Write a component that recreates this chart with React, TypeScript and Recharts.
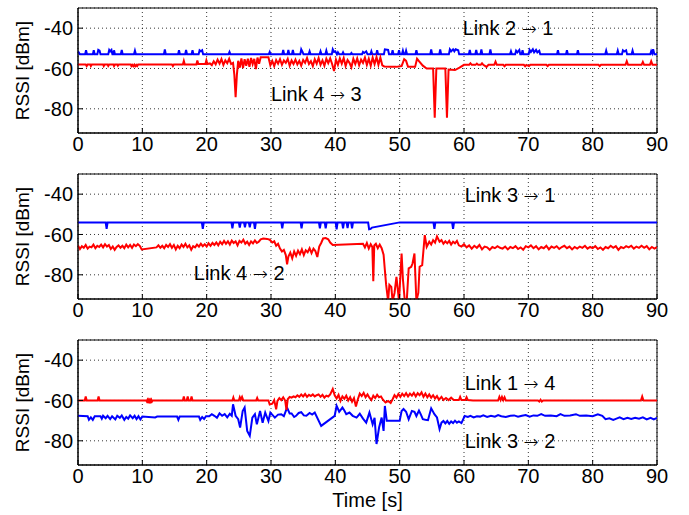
import React from "react";
import {
  LineChart,
  Line,
  XAxis,
  YAxis,
  CartesianGrid,
  ReferenceArea,
  ReferenceDot,
} from "recharts";

type Pt = [number, number];

const timeTicks = [0, 10, 20, 30, 40, 50, 60, 70, 80, 90];
const rssiTicks = [-80, -60, -40];

// panel 1
const link21: Pt[] = [
  [0, -51.5], [0.3, -53], [1.1, -53], [1.25, -51], [1.4, -53], [2.3, -53], [2.45, -51], [2.6, -53],
  [3.0, -53], [3.15, -50.8], [3.35, -51.2], [3.5, -53], [4.7, -53], [4.85, -50.8], [5.0, -51.5],
  [5.2, -50.8], [5.35, -53], [5.5, -53], [5.6, -51], [5.75, -53], [6.65, -53], [6.8, -50.8], [6.95, -53],
  [8.7, -53], [8.85, -51.2], [9.0, -53], [13.35, -53], [13.5, -50.5], [13.65, -53], [15.55, -53],
  [15.7, -51], [15.85, -53], [16.65, -53], [16.8, -50.8], [16.95, -53], [17.65, -53], [17.8, -51],
  [17.95, -53], [18.75, -53], [18.9, -51], [19.1, -51.5], [19.3, -51], [19.45, -53], [23.4, -53],
  [23.55, -51.8], [23.7, -53], [29.65, -53], [29.8, -51.8], [29.95, -53], [31.75, -53], [31.9, -50.8],
  [32.05, -53], [32.55, -53], [32.7, -50.8], [32.85, -53], [33.25, -53], [33.4, -50.8], [33.55, -53],
  [34.55, -53], [34.7, -50.5], [34.9, -51.8], [35.05, -53], [35.85, -53], [36.0, -51.5], [36.15, -53],
  [37.55, -53], [37.7, -51.5], [37.85, -53], [38.45, -53], [38.6, -51.2], [38.75, -53], [39.45, -53],
  [39.6, -50.5], [39.8, -51.8], [40.0, -51.5], [40.25, -53], [40.4, -52], [40.6, -53], [41.05, -53],
  [41.2, -52], [41.35, -53], [42.35, -53], [42.5, -52.3], [42.65, -53], [44.15, -53], [44.3, -51.8],
  [44.5, -52.3], [44.8, -51.5], [45.0, -53], [45.45, -53], [45.6, -51.5], [45.75, -53], [46.35, -53],
  [46.5, -51], [46.65, -53], [47.55, -53], [47.7, -50.5], [48.2, -50.8], [48.35, -53], [48.75, -53],
  [48.9, -51], [49.05, -53], [49.75, -53], [49.9, -51], [50.05, -53], [50.35, -53], [50.5, -51.2],
  [50.65, -53], [50.85, -53], [51.0, -51.2], [51.15, -53], [52.45, -53], [52.6, -51], [52.75, -53],
  [54.75, -53], [54.9, -50.6], [55.05, -53], [56.15, -53], [56.3, -50.6], [56.45, -53], [57.65, -53],
  [57.8, -50.5], [58.0, -51.5], [58.3, -50.5], [58.5, -51.5], [58.7, -50.5], [59.1, -51], [59.25, -53],
  [60.75, -53], [60.9, -50.8], [61.05, -53], [61.75, -53], [61.9, -50.8], [62.05, -53], [62.55, -53],
  [62.7, -50.5], [62.85, -53], [63.95, -53], [64.1, -50.5], [64.25, -53], [67.15, -53], [67.3, -51.5],
  [67.45, -53], [67.95, -53], [68.1, -51.2], [68.3, -52], [68.6, -50.8], [68.75, -53], [68.95, -53],
  [69.1, -51], [69.25, -53], [70.05, -53], [70.2, -50.8], [70.4, -51.8], [70.7, -50.5], [70.9, -52],
  [71.2, -50.8], [71.4, -52], [71.7, -51.2], [71.85, -53], [74.45, -53], [74.6, -51], [74.75, -53],
  [75.85, -53], [76.0, -51], [76.15, -53], [77.55, -53], [77.7, -51], [77.85, -53], [81.95, -53],
  [82.1, -51.2], [82.25, -53], [83.75, -53], [83.9, -51.2], [84.05, -53], [84.55, -53], [84.7, -51],
  [84.9, -51.6], [85.2, -51], [85.35, -53], [86.05, -53], [86.2, -51.2], [86.35, -53], [88.95, -53],
  [89.1, -51.4], [89.25, -52.5], [89.4, -50.4], [89.6, -53], [90, -53],
];

const link43: Pt[] = [
  [0, -58], [1.2, -58], [1.35, -58.8], [1.5, -58], [1.9, -58], [2.0, -58.8], [2.15, -58], [3.9, -58],
  [4.0, -58.8], [4.15, -58], [4.6, -58], [4.7, -58.7], [4.85, -58], [5.5, -58], [5.6, -58.8],
  [5.75, -58], [6.1, -58], [6.2, -58.6], [6.35, -58], [8.2, -58], [8.3, -58.8], [8.45, -58.2],
  [8.6, -58.9], [8.75, -58.1], [8.9, -58.9], [9.05, -58.2], [9.2, -58.8], [9.35, -58], [14.6, -58],
  [14.75, -58.8], [14.9, -58], [16.3, -58], [16.45, -56.2], [16.6, -58], [18.4, -58], [18.55, -56],
  [18.7, -57.8], [19.8, -57.8], [19.95, -56], [20.1, -57.8], [20.5, -57.5], [20.8, -58.3],
  [21.1, -56.4], [21.4, -57.9], [21.7, -55.6], [22.0, -57.6], [22.3, -55.3], [22.6, -58.2],
  [22.9, -56.0], [23.2, -57.4], [23.5, -55.2], [23.8, -57.8], [24.1, -57.2], [24.3, -63],
  [24.5, -74.2], [24.7, -63], [24.9, -56.2], [25.15, -59.6], [25.4, -55.0], [25.65, -59.8],
  [25.9, -55.4], [26.15, -58.6], [26.4, -55.2], [26.65, -59.2], [26.9, -54.8], [27.15, -57.8],
  [27.4, -55.2], [27.65, -60.3], [27.9, -54.6], [28.15, -57.6], [28.4, -54.4], [28.7, -54.4],
  [29.6, -54.4], [29.9, -58.4], [30.2, -56.2], [30.5, -58.8], [30.8, -55.8], [31.1, -57.6],
  [31.4, -55.4], [31.7, -58.2], [32.0, -56.0], [32.3, -57.2], [32.6, -55.2], [32.9, -58.6],
  [33.2, -56.0], [33.5, -57.8], [33.8, -55.6], [34.1, -58.0], [34.4, -56.2], [34.7, -58.6],
  [35.0, -55.8], [35.3, -57.2], [35.6, -54.8], [35.9, -57.8], [36.2, -56.4], [36.5, -58.8],
  [36.8, -55.4], [37.1, -57.6], [37.4, -54.8], [37.7, -58.2], [38.0, -56.0], [38.3, -58.6],
  [38.6, -55.2], [38.9, -57.4], [39.2, -55.0], [39.5, -57.8], [39.8, -61.3], [40.1, -55.6],
  [40.4, -58.2], [40.7, -55.0], [41.0, -57.6], [41.3, -54.8], [41.6, -58.8], [41.9, -55.8],
  [42.2, -57.2], [42.5, -59.4], [42.8, -55.2], [43.1, -57.8], [43.4, -55.0], [43.7, -58.4],
  [44.0, -55.6], [44.3, -57.2], [44.6, -54.6], [44.9, -58.2], [45.2, -55.2], [45.5, -58.6],
  [45.8, -54.6], [46.1, -57.8], [46.4, -54.4], [46.7, -58.2], [47.0, -54.6], [47.3, -58.4],
  [47.6, -59], [48.5, -59.2], [49.5, -59.2], [50.3, -58.8], [50.7, -55.4], [51.0, -56.2],
  [51.3, -59.2], [52.4, -59.2], [52.7, -55.2], [53.0, -56.4], [53.6, -58.6], [54.2, -60],
  [55.2, -60], [55.45, -84.4], [55.7, -60], [57.1, -60], [57.35, -84.4], [57.6, -60.5],
  [58.6, -60.8], [59.3, -59.6], [60.0, -58.2], [60.8, -58.2], [61.0, -57.4], [61.2, -58.2],
  [61.8, -58.2], [62.0, -57.6], [62.2, -58.2], [62.6, -58.2], [62.8, -57.4], [63.0, -58.2],
  [63.5, -59.2], [63.8, -58.2], [64.7, -58.2], [64.9, -56.6], [65.1, -58.2], [66.1, -58.2],
  [66.3, -58.9], [66.5, -58.2], [69.3, -58.2], [69.5, -58.9], [69.7, -58.2], [70.1, -58.8],
  [70.3, -58.2], [72.8, -58.2], [73.0, -58.8], [73.2, -58.2], [80.9, -58.2], [81.1, -58.8],
  [81.3, -58.2], [85.1, -58.2], [85.3, -56.4], [85.5, -58.2], [87.6, -58.2], [87.8, -56.8],
  [88.0, -58.2], [88.9, -58.2], [89.1, -56.4], [89.3, -58.2], [90, -58.2],
];

// panel 2
const link31: Pt[] = [
  [0, -54], [4.3, -54], [4.45, -57.2], [4.6, -54], [19.25, -54], [19.4, -57.2], [19.55, -54],
  [23.85, -54], [24.0, -57], [24.15, -54], [25.0, -54], [25.15, -56.6], [25.3, -54], [25.8, -54],
  [25.95, -56.4], [26.1, -54], [26.55, -54], [26.7, -56.4], [26.85, -54], [27.35, -54], [27.5, -57.2],
  [27.65, -54], [31.6, -54], [31.75, -57], [31.9, -54], [34.6, -54], [34.75, -57], [34.9, -54],
  [37.45, -54], [37.6, -57], [37.75, -54], [38.35, -54], [38.5, -57], [38.65, -54], [40.05, -54],
  [40.2, -57.4], [40.35, -54], [41.05, -54], [41.2, -57], [41.35, -54], [41.75, -54], [41.9, -56.8],
  [42.05, -54], [42.45, -54], [42.6, -57], [42.75, -54], [45.1, -54], [45.25, -57.4], [45.5, -57.2],
  [45.7, -56.6], [50.0, -54], [55.25, -54], [55.4, -57.2], [55.55, -54], [58.15, -54], [58.3, -57.2],
  [58.45, -54], [90, -54],
];

const link42: Pt[] = [
  [0, -65.5], [0.3, -67.2], [0.6, -65.8], [0.9, -66.6], [1.2, -65.2], [1.5, -67.0], [1.8, -66.0],
  [2.1, -66.4], [2.4, -65.0], [2.7, -66.8], [3.0, -65.6], [3.3, -66.2], [3.6, -65.0], [3.9, -66.4],
  [4.2, -64.8], [4.5, -66.0], [4.8, -65.2], [5.1, -67.2], [5.4, -66.0], [5.7, -67.6], [6.0, -66.2],
  [6.3, -65.4], [6.6, -66.6], [6.9, -65.6], [7.2, -66.8], [7.5, -65.0], [7.8, -66.4], [8.1, -65.2],
  [8.4, -66.6], [8.7, -65.0], [9.0, -65.8], [9.3, -64.8], [9.6, -65.6], [9.9, -67.4], [12.2, -66.4],
  [12.5, -65.4], [12.8, -66.6], [13.1, -65.6], [13.4, -66.8], [13.7, -65.2], [14.0, -66.2],
  [14.3, -64.8], [14.6, -66.6], [14.9, -65.2], [15.2, -67.4], [15.5, -65.6], [15.8, -66.8],
  [16.1, -65.0], [16.4, -66.2], [16.7, -64.6], [17.0, -66.4], [17.3, -65.4], [17.6, -67.6],
  [17.9, -65.8], [18.2, -66.4], [18.5, -65.0], [18.8, -66.0], [19.1, -64.6], [19.4, -65.8],
  [19.7, -64.8], [20.0, -66.0], [20.3, -64.4], [20.6, -65.6], [20.9, -64.2], [21.2, -65.2],
  [21.5, -64.0], [21.8, -65.4], [22.1, -63.6], [22.4, -64.8], [22.7, -63.2], [23.0, -64.6],
  [23.3, -63.4], [23.6, -65.0], [23.9, -63.0], [24.2, -64.2], [24.5, -63.4], [24.8, -65.4],
  [25.1, -63.2], [25.4, -64.0], [25.7, -62.6], [26.0, -64.6], [26.3, -63.6], [26.6, -65.2],
  [26.9, -63.4], [27.2, -64.4], [27.5, -63.0], [27.8, -64.2], [28.1, -63.6], [28.4, -62.4],
  [28.8, -62.0], [29.4, -62.2], [29.8, -62.6], [30.2, -64.0], [30.5, -63.4], [30.8, -65.6],
  [31.1, -64.6], [31.4, -67.0], [31.7, -68.4], [32.0, -67.6], [32.3, -70.2], [32.5, -74.8],
  [32.7, -71.0], [33.0, -69.0], [33.3, -71.8], [33.6, -68.4], [33.9, -70.6], [34.2, -68.0],
  [34.5, -69.8], [34.8, -67.4], [35.1, -70.2], [35.4, -67.8], [35.7, -68.8], [36.0, -66.8],
  [36.3, -69.2], [36.6, -67.0], [36.9, -68.2], [37.2, -71.2], [37.5, -66.0], [37.8, -64.2],
  [38.1, -62.0], [38.5, -61.8], [38.9, -62.4], [39.2, -64.0], [39.6, -65.2], [44.3, -64.6],
  [44.6, -66.4], [44.9, -64.2], [45.2, -67.0], [45.5, -64.8], [45.75, -66.2], [45.9, -83.2],
  [46.05, -65.4], [46.3, -64.6], [46.6, -66.8], [46.9, -65.0], [47.2, -66.8], [47.5, -70],
  [47.7, -77.7], [47.9, -85], [48.2, -93], [48.4, -85], [48.7, -86], [48.9, -93], [49.2, -89],
  [49.5, -81], [49.9, -93], [50.3, -69.4], [50.5, -82], [50.8, -93], [51.1, -93], [51.4, -76.8],
  [51.8, -76], [52.0, -74.4], [52.3, -69.4], [52.6, -93], [52.9, -89], [53.1, -76], [53.5, -75.2],
  [53.9, -60.3], [54.2, -66.1], [54.6, -63.6], [54.9, -65.0], [55.2, -62.8], [55.5, -64.0],
  [55.8, -61.0], [56.2, -63.6], [56.5, -62.8], [56.8, -64.6], [57.1, -63.4], [57.4, -64.4],
  [57.7, -63.2], [58.0, -65.0], [58.3, -63.6], [58.6, -64.4], [58.9, -63.2], [59.2, -65.4],
  [59.6, -66.0], [60.0, -64.8], [60.4, -66.4], [60.8, -65.4], [61.2, -67.0], [61.6, -65.6],
  [62.0, -66.6], [62.4, -65.2], [62.8, -67.4], [63.2, -66.0], [63.6, -66.4], [64.0, -67.6],
  [64.4, -66.2], [64.8, -66.8], [65.2, -65.8], [65.6, -66.6], [66.0, -67.0], [66.4, -66.0],
  [66.8, -67.4], [67.2, -66.2], [67.6, -66.8], [68.0, -65.8], [68.4, -67.2], [68.8, -66.4],
  [69.2, -67.6], [69.6, -65.8], [70.0, -66.4], [70.4, -65.4], [70.8, -66.8], [71.2, -65.8],
  [71.6, -67.4], [72.0, -66.2], [72.4, -66.8], [72.8, -65.6], [73.2, -67.4], [73.6, -66.0],
  [74.0, -66.6], [74.4, -65.8], [74.8, -67.2], [75.2, -66.2], [75.6, -65.6], [76.0, -66.8],
  [76.4, -66.0], [76.8, -67.4], [77.2, -66.2], [77.6, -67.0], [78.0, -66.0], [78.4, -66.6],
  [78.8, -65.6], [79.2, -67.0], [79.6, -66.2], [80.0, -66.8], [80.4, -65.8], [80.8, -67.2],
  [81.2, -66.4], [81.6, -67.6], [82.0, -66.2], [82.4, -66.8], [82.8, -65.6], [83.2, -66.6],
  [83.6, -65.8], [84.0, -67.6], [84.4, -66.2], [84.8, -66.8], [85.2, -65.8], [85.6, -66.4],
  [86.0, -65.6], [86.4, -67.0], [86.8, -66.0], [87.2, -66.6], [87.6, -65.6], [88.0, -66.6],
  [88.4, -65.8], [88.8, -67.4], [89.2, -66.2], [89.6, -67.0], [90, -66.2],
];

// panel 3
const link14: Pt[] = [
  [0, -60], [1.05, -60], [1.2, -58], [1.35, -60], [3.05, -60], [3.2, -58], [3.35, -60], [10.6, -60],
  [10.7, -60.5], [10.8, -59.7], [10.9, -60.5], [11.0, -59.7], [11.1, -60.5], [11.2, -59.7],
  [11.3, -60.5], [11.4, -59.7], [11.5, -60.5], [11.6, -60], [16.3, -60], [16.45, -58], [16.6, -60],
  [16.9, -60], [17.05, -58], [17.2, -60], [17.5, -60], [17.65, -58], [17.8, -60], [24.0, -60],
  [24.15, -58.5], [24.3, -60], [25.0, -60], [25.15, -58.4], [25.3, -59.6], [25.5, -58.2], [25.7, -60],
  [27.7, -60], [27.85, -58.8], [28.0, -60], [29.6, -60], [29.8, -62.0], [30.2, -61.6], [30.5, -59.8],
  [30.8, -64.4], [31.0, -60.2], [31.3, -58.8], [31.6, -59.8], [31.9, -58.4], [32.2, -60.0],
  [32.4, -64.6], [32.6, -59.4], [32.9, -58.2], [33.2, -58.6], [33.5, -58.0], [33.8, -58.4],
  [34.1, -57.4], [34.4, -58.2], [34.7, -57.0], [35.0, -58.0], [35.3, -56.8], [35.6, -58.2],
  [35.9, -57.2], [36.2, -57.8], [36.5, -57.0], [36.8, -58.0], [37.1, -57.4], [37.4, -57.0],
  [37.7, -58.2], [38.0, -57.2], [38.3, -58.6], [38.6, -57.6], [38.9, -58.0], [39.2, -57.0],
  [39.6, -54.3], [39.9, -57.4], [40.2, -59.0], [40.5, -57.2], [40.8, -60.2], [41.1, -58.0],
  [41.4, -59.2], [41.7, -57.6], [42.0, -60.0], [42.3, -58.4], [42.6, -60.6], [42.9, -58.8],
  [43.2, -63.0], [43.5, -59.4], [43.8, -56.6], [44.1, -57.8], [44.4, -56.2], [44.7, -58.4],
  [45.0, -57.0], [45.3, -58.6], [45.6, -59.8], [45.9, -57.6], [46.2, -58.8], [46.5, -57.2],
  [46.8, -58.4], [47.1, -58.0], [47.4, -59.6], [47.8, -61.0], [48.2, -60.2], [48.6, -61.2],
  [48.9, -59.4], [49.2, -57.4], [49.5, -58.6], [49.8, -56.8], [50.1, -58.2], [50.4, -56.6],
  [50.7, -57.8], [51.0, -56.4], [51.3, -58.0], [51.6, -56.6], [51.9, -57.6], [52.2, -56.2],
  [52.5, -58.0], [52.8, -56.4], [53.1, -57.4], [53.4, -56.0], [53.7, -58.2], [54.0, -56.6],
  [54.3, -58.4], [54.6, -57.0], [54.9, -58.6], [55.2, -57.4], [55.5, -59.0], [55.8, -57.8],
  [56.1, -59.6], [56.5, -58.2], [56.8, -59.8], [57.2, -58.8], [57.6, -59.8], [58.0, -58.6],
  [58.4, -59.8], [59.2, -59.8], [59.4, -58.2], [59.6, -59.8], [60.2, -59.8], [60.4, -58.4],
  [60.6, -59.8], [61.4, -60], [65.3, -60], [65.5, -58.2], [65.7, -59.8], [65.9, -58.2], [66.1, -59.8],
  [66.3, -58.4], [66.5, -60], [71.5, -60], [71.7, -60.5], [71.9, -59.6], [72.1, -60.5], [72.3, -60],
  [87.5, -60], [87.7, -58], [87.9, -60], [90, -60],
];

const link32: Pt[] = [
  [0, -67.6], [1.5, -67.8], [1.7, -69.6], [2.0, -68.4], [2.3, -69.6], [2.6, -67.8], [3.5, -67.8],
  [3.7, -69.0], [3.9, -67.6], [4.3, -68.8], [4.6, -67.6], [5.0, -69.2], [5.3, -67.8], [5.8, -69.4],
  [6.1, -67.6], [6.5, -68.6], [6.8, -67.4], [7.2, -69.6], [7.5, -68.2], [7.8, -69.0], [8.1, -67.4],
  [8.5, -68.8], [8.8, -67.6], [9.1, -69.2], [9.4, -67.8], [9.7, -69.4], [10.0, -68.0], [12.0, -68.4],
  [12.3, -68.0], [15.4, -68.0], [15.6, -69.6], [15.8, -68.0], [18.8, -68.0], [19.0, -69.6],
  [19.3, -68.2], [19.6, -69.2], [19.9, -67.8], [20.4, -67.8], [20.8, -66.8], [21.2, -67.6],
  [21.6, -68.6], [22.0, -66.4], [22.4, -67.6], [22.8, -66.8], [23.2, -68.4], [23.6, -66.6],
  [23.9, -67.6], [24.1, -61.9], [24.5, -67.6], [24.9, -69.3], [25.2, -73.4], [25.6, -65.2],
  [25.9, -63.5], [26.3, -75.1], [26.7, -77.5], [27.1, -68.5], [27.5, -66.8], [27.8, -71.8],
  [28.3, -65.2], [28.7, -71.0], [29.1, -66.0], [29.6, -70.2], [29.9, -66.0], [30.6, -68.5],
  [31.1, -67.0], [31.6, -66.8], [32.0, -67.8], [32.5, -63.5], [32.9, -66.4], [33.2, -66.4],
  [33.6, -68.2], [33.9, -67.6], [34.3, -66.2], [34.7, -65.8], [35.1, -67.4], [35.5, -67.6],
  [36.0, -66.2], [36.4, -67.0], [36.8, -66.0], [37.8, -72.6], [39.9, -67.6], [40.2, -62.7],
  [40.6, -65.6], [41.1, -63.5], [41.4, -65.0], [41.7, -66.8], [42.2, -66.0], [42.7, -67.6],
  [43.3, -68.5], [43.8, -66.6], [44.3, -69.0], [44.8, -71.0], [45.3, -66.0], [45.8, -71.8],
  [46.1, -68.6], [46.4, -81.6], [46.8, -73.4], [47.2, -68.5], [47.5, -75.1], [47.7, -62.7],
  [48.0, -70.1], [48.4, -70.1], [50.0, -70.1], [50.3, -65.2], [50.6, -64.2], [51.0, -65.6],
  [51.4, -69.3], [51.9, -65.2], [52.3, -65.6], [52.6, -67.7], [53.0, -65.0], [53.3, -67.0],
  [53.6, -69.3], [54.0, -69.6], [54.4, -69.8], [54.9, -63.9], [55.4, -66.8], [55.8, -68.4],
  [56.2, -74.2], [56.5, -71.0], [56.8, -70.2], [57.1, -71.4], [57.4, -70.2], [57.7, -71.6],
  [58.0, -70.4], [58.3, -71.2], [58.6, -70.0], [58.9, -71.0], [59.2, -70.4], [59.6, -71.2],
  [60.1, -67.7], [60.6, -68.2], [61.0, -67.6], [61.5, -68.4], [62.0, -67.8], [62.5, -68.0],
  [63.0, -67.4], [63.6, -68.2], [64.2, -67.6], [64.8, -68.0], [65.3, -67.2], [65.8, -67.8],
  [66.5, -68.2], [67.2, -67.6], [67.8, -67.4], [68.4, -68.0], [69.0, -67.6], [69.6, -67.2],
  [70.2, -68.0], [70.8, -67.4], [71.4, -67.6], [72.0, -66.8], [72.6, -67.6], [73.5, -67.4],
  [74.4, -67.8], [75.0, -66.8], [75.6, -67.6], [76.5, -67.4], [77.4, -66.8], [78.0, -67.6],
  [79.0, -67.4], [80.0, -67.8], [80.8, -66.8], [81.5, -67.6], [82.0, -69.3], [82.6, -68.8],
  [83.2, -69.6], [83.7, -69.0], [84.2, -68.4], [84.8, -69.3], [85.4, -68.6], [86.0, -69.2],
  [86.6, -68.6], [87.2, -69.0], [87.8, -68.4], [88.4, -69.4], [89.0, -68.6], [89.5, -69.4],
  [90, -68.6],
];

const BLUE = "#0000ff";
const RED = "#ff0000";
const FONT = '"Liberation Sans", Arial, Helvetica, sans-serif';

const toRows = (pts: Pt[]) => pts.map(([t, v]) => ({ t, v }));

type Note = { from: string; to: string; t: number; v: number };
type Series = { name: string; color: string; pts: Pt[] };

const rssiLabel = (props: any) => {
  const vb = props.viewBox || {};
  const cx = 22;
  const cy = vb.y + vb.height / 2;
  return (
    <text
      x={cx}
      y={cy}
      transform={`rotate(-90 ${cx} ${cy})`}
      textAnchor="middle"
      dominantBaseline="central"
      fontSize={19}
      fontFamily={FONT}
      fill="#000"
    >
      RSSI [dBm]
    </text>
  );
};

const timeLabel = (props: any) => {
  const vb = props.viewBox || {};
  const cx = vb.x + vb.width / 2;
  const cy = vb.y + 35;
  return (
    <text x={cx} y={cy} textAnchor="middle" dominantBaseline="central" fontSize={20} fontFamily={FONT} fill="#000">
      Time [s]
    </text>
  );
};

// "Link a → b" with a long thin arrow like the TeX one
const noteLabel = (n: Note) => (props: any) => {
  const vb = props.viewBox || {};
  return (
    <text x={vb.x} y={vb.y} dominantBaseline="central" fontSize={20} fontFamily={FONT} fill="#000">
      {`Link ${n.from} `}
      <tspan fontFamily='"DejaVu Sans", sans-serif' fontSize={18} fontWeight={200}>→</tspan>
      {` ${n.to}`}
    </text>
  );
};

function Panel({ top, series, notes, last }: { top: number; series: Series[]; notes: Note[]; last?: boolean }) {
  const axisH = last ? 50 : 30;
  return (
    <div style={{ position: "absolute", left: 0, top }}>
      <LineChart width={689} height={8 + 125 + axisH} margin={{ top: 8, right: 32, left: 38, bottom: 0 }}>
        <CartesianGrid stroke="#000" strokeDasharray="1 3" strokeWidth={0.8} />
        <XAxis
          type="number"
          dataKey="t"
          domain={[0, 90]}
          ticks={timeTicks}
          allowDataOverflow
          height={axisH}
          tickSize={-5}
          tickMargin={9}
          tickLine={{ stroke: "#000" }}
          axisLine={{ stroke: "#000" }}
          tick={{ fill: "#000", fontSize: 20, fontFamily: FONT }}
          label={last ? { content: timeLabel } : undefined}
        />
        <YAxis
          type="number"
          domain={[-92, -30]}
          ticks={rssiTicks}
          allowDataOverflow
          width={40}
          tickSize={-5}
          tickMargin={10}
          tickLine={{ stroke: "#000" }}
          axisLine={{ stroke: "#000" }}
          tick={{ fill: "#000", fontSize: 20, fontFamily: FONT }}
          label={{ content: rssiLabel }}
        />
        <ReferenceArea x1={0} x2={90} y1={-92} y2={-30} fill="none" stroke="#000" strokeWidth={1} />
        {series.map((s) => (
          <Line
            key={s.name}
            name={s.name}
            data={toRows(s.pts)}
            dataKey="v"
            type="linear"
            stroke={s.color}
            strokeWidth={2}
            dot={false}
            isAnimationActive={false}
          />
        ))}
        {notes.map((n) => (
          <ReferenceDot
            key={n.from + n.to}
            x={n.t}
            y={n.v}
            r={0}
            fill="none"
            stroke="none"
            label={{ content: noteLabel(n) }}
          />
        ))}
      </LineChart>
    </div>
  );
}

export default function App() {
  return (
    <div style={{ position: "absolute", left: 0, top: 0, width: 689, height: 515, background: "#fff" }}>
      <Panel
        top={0}
        series={[
          { name: "Link 2 → 1", color: BLUE, pts: link21 },
          { name: "Link 4 → 3", color: RED, pts: link43 },
        ]}
        notes={[
          { from: "2", to: "1", t: 59.8, v: -40 },
          { from: "4", to: "3", t: 30, v: -72.6 },
        ]}
      />
      <Panel
        top={166}
        series={[
          { name: "Link 3 → 1", color: BLUE, pts: link31 },
          { name: "Link 4 → 2", color: RED, pts: link42 },
        ]}
        notes={[
          { from: "3", to: "1", t: 60.1, v: -40.3 },
          { from: "4", to: "2", t: 18, v: -79 },
        ]}
      />
      <Panel
        top={332}
        last
        series={[
          { name: "Link 3 → 2", color: BLUE, pts: link32 },
          { name: "Link 1 → 4", color: RED, pts: link14 },
        ]}
        notes={[
          { from: "1", to: "4", t: 60.1, v: -51.2 },
          { from: "3", to: "2", t: 60.1, v: -80 },
        ]}
      />
    </div>
  );
}
